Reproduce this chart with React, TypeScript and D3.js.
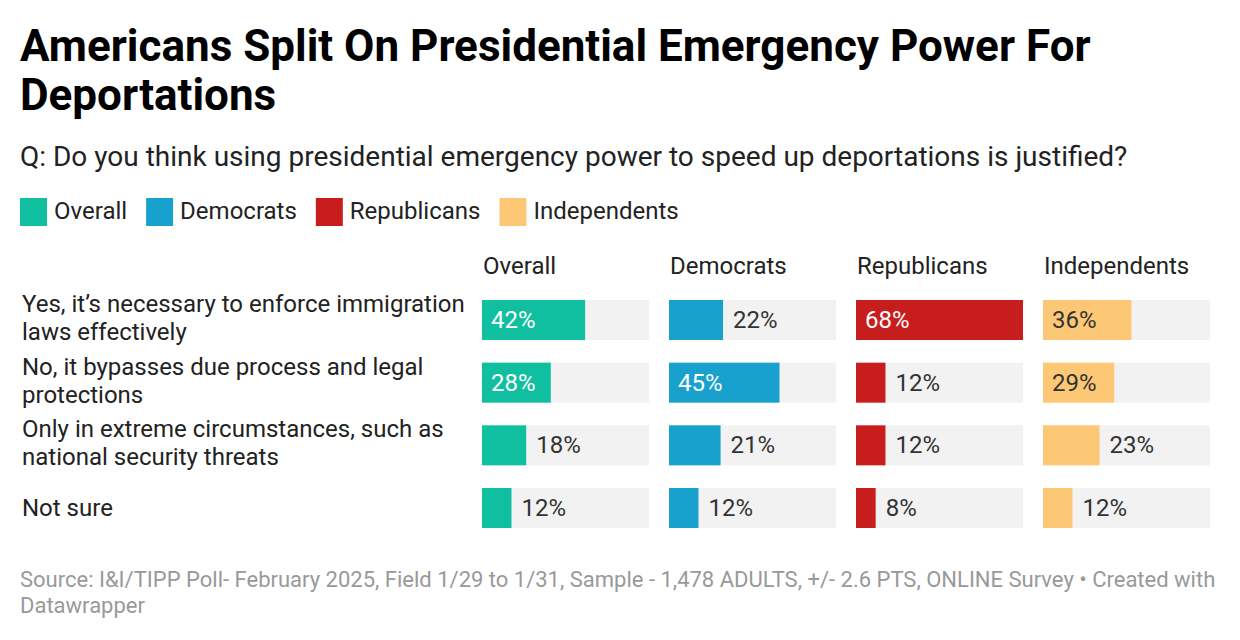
import React, { useEffect } from 'react';
import * as d3 from 'd3';

const categories = [
  'Yes, it\u2019s necessary to enforce immigration laws effectively',
  'No, it bypasses due process and legal protections',
  'Only in extreme circumstances, such as national security threats',
  'Not sure',
];
const groups = ['Overall', 'Democrats', 'Republicans', 'Independents'];
const overall = [42, 28, 18, 12];
const democrats = [22, 45, 21, 12];
const republicans = [68, 12, 12, 8];
const independents = [36, 29, 23, 12];

const colors = ['#0fbfa0', '#18a1cd', '#c71e1d', '#fdc875'];
const insideText = ['#ffffff', '#ffffff', '#ffffff', '#333333'];

const W = 1240;
const H = 640;
const FONT = 'Roboto, "Noto Sans", sans-serif';

const ctx = document.createElement('canvas').getContext('2d')!;
function measure(text: string, font: string) {
  ctx.font = font;
  return ctx.measureText(text).width;
}

function wrap(text: string, maxWidth: number, font: string): string[] {
  const words = text.split(' ');
  const lines: string[] = [];
  let cur = '';
  for (const w of words) {
    const test = cur ? cur + ' ' + w : w;
    if (measure(test, font) > maxWidth && cur) {
      lines.push(cur);
      cur = w;
    } else {
      cur = test;
    }
  }
  if (cur) lines.push(cur);
  return lines;
}

export default function App() {
  useEffect(() => {
    document.body.style.margin = '0';
  }, []);

  const series = [overall, democrats, republicans, independents];
  const maxVal = d3.max(series.flat()) as number;

  const col = d3.scaleBand<string>().domain(groups).range([482, 1210]).paddingInner(0.107);
  const row = d3.scaleBand<string>().domain(categories).range([300, 528]).paddingInner(0.362);
  const x = d3.scaleLinear().domain([0, maxVal]).range([0, col.bandwidth()]);
  const bh = row.bandwidth();

  // legend layout from text widths
  const legendFont = `24px ${FONT}`;
  const legendX: number[] = [];
  let lx = 20;
  groups.forEach((g) => {
    legendX.push(lx);
    lx += 34 + measure(g, legendFont) + 19;
  });

  return (
    <svg width={W} height={H} style={{ display: 'block', fontFamily: FONT }}>
      <rect width={W} height={H} fill="#fff" />
      <text x={20} y={61} fontSize={44} fontWeight={700} fill="#000">
        Americans Split On Presidential Emergency Power For
      </text>
      <text x={20} y={110} fontSize={44} fontWeight={700} fill="#000">
        Deportations
      </text>
      <text x={20} y={166} fontSize={28} fill="#222">
        Q: Do you think using presidential emergency power to speed up deportations is justified?
      </text>

      {groups.map((g, i) => (
        <g key={g} transform={`translate(${legendX[i]},198)`}>
          <rect width={27} height={28} fill={colors[i]} />
          <text x={34} y={21} fontSize={24} fill="#222">{g}</text>
        </g>
      ))}

      {groups.map((g) => (
        <text key={g} x={(col(g) as number) + 1} y={274} fontSize={24} fill="#222">{g}</text>
      ))}

      {categories.map((c) => {
        const lines = wrap(c, 450, `24px ${FONT}`);
        const y0 = row(c) as number;
        const first = lines.length > 1 ? y0 + 12 : y0 + bh / 2 + 8;
        return (
          <text key={c} x={22} fontSize={24} fill="#222">
            {lines.map((l, k) => (
              <tspan key={k} x={22} y={first + k * 28}>{l}</tspan>
            ))}
          </text>
        );
      })}

      {groups.map((g, gi) => {
        const cx = col(g) as number;
        return (
          <g key={g}>
            {categories.map((c, ci) => {
              const v = series[gi][ci];
              const y0 = row(c) as number;
              const bw = x(v);
              const inside = v >= 25;
              return (
                <g key={c}>
                  <rect x={cx} y={y0} width={col.bandwidth()} height={bh} fill="#f2f2f2" />
                  <rect x={cx} y={y0} width={bw} height={bh} fill={colors[gi]} />
                  <text
                    x={inside ? cx + 9 : cx + bw + 10}
                    y={y0 + bh / 2 + 8}
                    fontSize={24}
                    fill={inside ? insideText[gi] : '#333'}
                  >
                    {v}%
                  </text>
                </g>
              );
            })}
          </g>
        );
      })}

      <text x={20} y={587} fontSize={22} fill="#999">
        Source: I&amp;I/TIPP Poll- February 2025, Field 1/29 to 1/31, Sample - 1,478 ADULTS, +/- 2.6 PTS, ONLINE Survey • Created with
      </text>
      <text x={20} y={613} fontSize={22} fill="#999">Datawrapper</text>
    </svg>
  );
}
